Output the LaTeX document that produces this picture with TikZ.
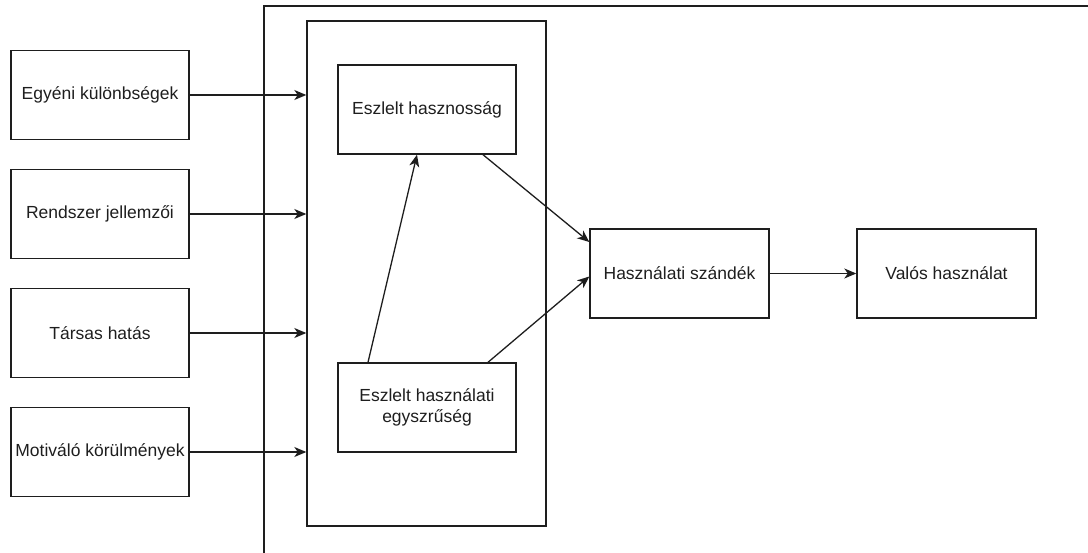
\documentclass[tikz,border=0pt]{standalone}
\usepackage{fontspec}
\setmainfont{Liberation Sans}
\usetikzlibrary{arrows.meta}
\definecolor{ink}{HTML}{1E1E1E}
\begin{document}
\begin{tikzpicture}[x=1pt,y=-1pt,
  box/.style={draw=ink,line width=1.4pt,minimum width=178pt,minimum height=89pt,
    inner sep=2pt,align=center,text=ink,font=\fontsize{17.5}{21}\selectfont},
  link/.style={draw=ink,line width=1.3pt,-{Stealth[length=12pt,width=10pt,inset=3.5pt]}}]
\useasboundingbox (0,0) rectangle (1088,553);
% open outer frame (top and left sides only)
\draw[ink,line width=1.4pt] (264,553) -- (264,6) -- (1088,6);
% frame of the perceived factors
\node[draw=ink,line width=1.4pt,minimum width=239pt,minimum height=505pt,inner sep=0pt]
  (mech) at (426.5,273.5) {};
% external variables
\node[box] (e1) at (100,95) {Egyéni különbségek};
\node[box] (e2) at (100,214) {Rendszer jellemzői};
\node[box] (e3) at (100,333) {Társas hatás};
\node[box] (e4) at (100,452) {Motiváló körülmények};
% perceived factors
\node[box] (pu) at (427,109.5) {Eszlelt hasznosság};
\node[box] (peu) at (427,407.5) {Eszlelt használati\\egyszrűség};
% intention and use
\node[box,minimum width=179pt] (bi) at (679.5,273.5) {Használati szándék};
\node[box,minimum width=179pt] (use) at (946.5,273.5) {Valós használat};
% connectors
\foreach \e in {e1,e2,e3,e4}
  \draw[link] (\e.east) -- (mech.west |- \e.east);
\draw[link] ([xshift=-59pt]peu.north) -- ([xshift=-10pt]pu.south);
\draw[link] ([xshift=56pt]pu.south) -- ([yshift=31.5pt]bi.west);
\draw[link] ([xshift=61pt]peu.north) -- ([yshift=-3pt]bi.west);
\draw[link] (bi.east) -- (use.west);
\end{tikzpicture}
\end{document}
